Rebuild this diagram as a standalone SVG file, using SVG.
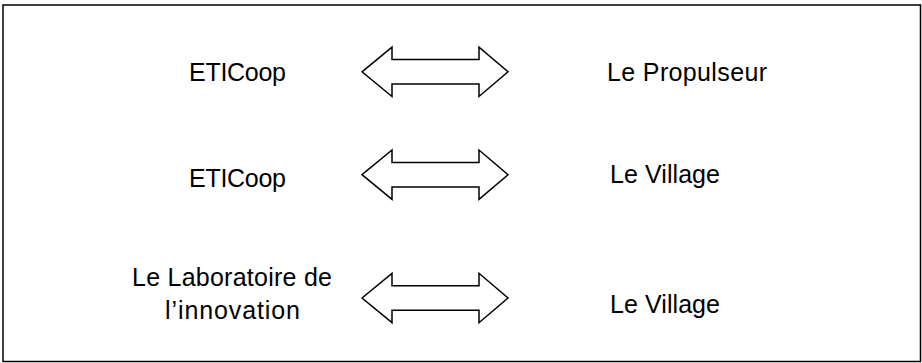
<svg xmlns="http://www.w3.org/2000/svg" xmlns:xlink="http://www.w3.org/1999/xlink" width="922" height="363" viewBox="0 0 922 363">
  <style>
    .lbl { font-family: "Liberation Sans", Arial, sans-serif; font-size: 25px; fill: #000; }
    .frame { fill: #fff; stroke: #000; stroke-width: 1.5; }
    .arr { fill: #fff; stroke: #000; stroke-width: 1.5; stroke-linejoin: miter; }
  </style>
  <defs>
    <path id="dblarrow" class="arr" d="M362,0 L392,-24.7 L392,-12.3 L479,-12.3 L479,-24.7 L508,0 L479,24.7 L479,12.3 L392,12.3 L392,24.7 Z"/>
  </defs>
  <rect class="frame" x="3" y="5" width="917.5" height="356.5"/>

  <g id="connectors">
    <use xlink:href="#dblarrow" href="#dblarrow" transform="translate(0,71.8)"/>
    <use xlink:href="#dblarrow" href="#dblarrow" transform="translate(0,174.7)"/>
    <use xlink:href="#dblarrow" href="#dblarrow" transform="translate(0,298)"/>
  </g>

  <g id="node-eticoop-1">
    <text class="lbl" x="189" y="80.5" textLength="97">ETICoop</text>
  </g>
  <g id="node-propulseur">
    <text class="lbl" x="607" y="81" textLength="160">Le Propulseur</text>
  </g>
  <g id="node-eticoop-2">
    <text class="lbl" x="189" y="186.5" textLength="97">ETICoop</text>
  </g>
  <g id="node-village-1">
    <text class="lbl" x="610" y="182.5" textLength="110">Le Village</text>
  </g>
  <g id="node-laboratoire">
    <text class="lbl" x="132" y="285.5" textLength="200">Le Laboratoire de</text>
    <text class="lbl" x="165" y="319" textLength="135">l’innovation</text>
  </g>
  <g id="node-village-2">
    <text class="lbl" x="610" y="312.5" textLength="110">Le Village</text>
  </g>
</svg>
